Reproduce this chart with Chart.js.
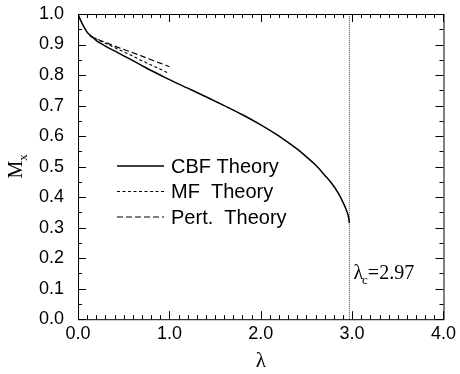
<!DOCTYPE html>
<html lang="en">
<head>
    <meta charset="UTF-8">
    <title>Mx vs lambda</title>
    <script src="https://cdn.jsdelivr.net/npm/chart.js@4.4.0/dist/chart.umd.min.js"></script>
    <style>
        body { margin: 0; background: #fff; }
    </style>
</head>
<body>
    <canvas id="canvas" width="460" height="374"></canvas>
    <script>
        // values
        const lambdaCBF = [0.00, 0.02, 0.05, 0.10, 0.15, 0.20, 0.30, 0.40, 0.50, 0.60, 0.70, 0.80, 0.90, 1.00,
            1.20, 1.40, 1.60, 1.80, 2.00, 2.20, 2.40, 2.50, 2.60, 2.70, 2.78, 2.85, 2.90, 2.94, 2.96, 2.97]
        const mCBF = [1.000, 0.985, 0.966, 0.940, 0.926, 0.913, 0.895, 0.879, 0.863, 0.847, 0.831, 0.815, 0.800, 0.785,
            0.757, 0.729, 0.700, 0.670, 0.637, 0.600, 0.557, 0.532, 0.505, 0.472, 0.444, 0.412, 0.383, 0.355, 0.335, 0.315]
        const lambdaLow = [0.13, 0.20, 0.30, 0.40, 0.50, 0.60, 0.70, 0.80, 0.90, 1.00]
        const mMF = [0.929, 0.918, 0.904, 0.890, 0.876, 0.862, 0.847, 0.833, 0.819, 0.805]
        const mPert = [0.929, 0.919, 0.907, 0.895, 0.884, 0.873, 0.862, 0.850, 0.839, 0.827]
        const lambdaC = 2.97
        const seriesNames = ['CBF Theory', 'MF  Theory', 'Pert.  Theory']

        const toPoints = (xs, ys) => xs.map((x, i) => ({ x: x, y: ys[i] }))

        const sans = 'Liberation Sans, Arial, sans-serif'
        const serif = 'Liberation Serif, Times New Roman, serif'

        const frameTicks = {
            id: 'frameTicks',
            afterDatasetsDraw: (chart) => {
                const ctx = chart.ctx
                const a = chart.chartArea
                const xs = chart.scales.x
                const ys = chart.scales.y
                ctx.save()
                ctx.strokeStyle = '#000'
                ctx.lineWidth = 1
                ctx.strokeRect(a.left + 0.5, a.top + 0.5, a.right - a.left, a.bottom - a.top)
                ctx.beginPath()
                for (let i = 0; i <= 40; i++) {
                    const px = Math.round(xs.getPixelForValue(i / 10)) + 0.5
                    const len = i % 10 === 0 ? 8 : 4
                    ctx.moveTo(px, a.bottom); ctx.lineTo(px, a.bottom - len)
                    ctx.moveTo(px, a.top); ctx.lineTo(px, a.top + len)
                }
                for (let i = 0; i <= 20; i++) {
                    const py = Math.round(ys.getPixelForValue(i / 20)) + 0.5
                    const len = i % 2 === 0 ? 8 : 4
                    ctx.moveTo(a.left, py); ctx.lineTo(a.left + len, py)
                    ctx.moveTo(a.right, py); ctx.lineTo(a.right - len, py)
                }
                ctx.stroke()

                // legend
                const sets = chart.data.datasets.slice(0, 3)
                sets.forEach((ds, i) => {
                    const y = a.top + 152 + i * 25.5
                    ctx.beginPath()
                    ctx.setLineDash(ds.borderDash || [])
                    ctx.lineWidth = ds.borderWidth
                    ctx.moveTo(a.left + 39, y)
                    ctx.lineTo(a.left + 86, y)
                    ctx.stroke()
                    ctx.setLineDash([])
                    ctx.fillStyle = '#000'
                    ctx.font = '20px ' + sans
                    ctx.textBaseline = 'middle'
                    ctx.textAlign = 'left'
                    ctx.fillText(ds.label, a.left + 93, y + 1)
                })

                // lambda_c label
                const lx = xs.getPixelForValue(lambdaC) + 4
                const ly = ys.getPixelForValue(0.132)
                ctx.textBaseline = 'alphabetic'
                ctx.font = '20px ' + serif
                ctx.fillText('\u03bb', lx, ly)
                let w = ctx.measureText('\u03bb').width
                ctx.font = '13px ' + serif
                ctx.fillText('c', lx + w - 1, ly + 5)
                const wc = ctx.measureText('c').width
                ctx.font = '20px ' + serif
                ctx.fillText('=2.97', lx + w - 1 + wc, ly)

                // y axis title M_x
                ctx.translate(22, (a.top + a.bottom) / 2)
                ctx.rotate(-Math.PI / 2)
                ctx.font = '20px ' + serif
                ctx.textAlign = 'left'
                const wm = ctx.measureText('M').width
                ctx.fillText('M', -wm / 2 - 3, 0)
                ctx.font = '13px ' + serif
                ctx.fillText('x', wm / 2 - 3, 5)
                ctx.restore()
            }
        }

        new Chart(document.getElementById('canvas').getContext('2d'), {
            type: 'scatter',
            data: {
                datasets: [
                    {
                        label: seriesNames[0],
                        data: toPoints(lambdaCBF, mCBF),
                        showLine: true,
                        borderColor: '#000',
                        borderWidth: 1.5,
                        pointRadius: 0,
                        cubicInterpolationMode: 'monotone'
                    },
                    {
                        label: seriesNames[1],
                        data: toPoints(lambdaLow, mMF),
                        showLine: true,
                        borderColor: '#000',
                        borderWidth: 1.1,
                        borderDash: [3, 2.5],
                        pointRadius: 0,
                        cubicInterpolationMode: 'monotone'
                    },
                    {
                        label: seriesNames[2],
                        data: toPoints(lambdaLow, mPert),
                        showLine: true,
                        borderColor: '#000',
                        borderWidth: 1.1,
                        borderDash: [6, 3],
                        pointRadius: 0,
                        cubicInterpolationMode: 'monotone'
                    },
                    {
                        label: 'lambda_c',
                        data: [{ x: lambdaC, y: 0 }, { x: lambdaC, y: 1 }],
                        showLine: true,
                        borderColor: '#444',
                        borderWidth: 1,
                        borderDash: [1, 1],
                        pointRadius: 0
                    }
                ]
            },
            options: {
                responsive: false,
                animation: false,
                layout: { padding: { left: 25, right: 15, top: 14, bottom: 0 } },
                plugins: {
                    legend: { display: false },
                    tooltip: { enabled: false }
                },
                scales: {
                    x: {
                        type: 'linear',
                        min: 0,
                        max: 4,
                        grid: { display: false, drawTicks: false },
                        border: { display: false },
                        ticks: {
                            stepSize: 1,
                            padding: 4,
                            color: '#000',
                            font: { family: sans, size: 18 },
                            callback: (v) => v.toFixed(1)
                        },
                        title: {
                            display: true,
                            text: '\u03bb',
                            color: '#000',
                            font: { family: serif, size: 21 },
                            padding: { top: 0, bottom: 0 }
                        }
                    },
                    y: {
                        type: 'linear',
                        min: 0,
                        max: 1,
                        afterFit: (scale) => {
                            scale.paddingTop = 0
                            scale.paddingBottom = 0
                        },
                        grid: { display: false, drawTicks: false },
                        border: { display: false },
                        ticks: {
                            stepSize: 0.1,
                            padding: 14,
                            color: '#000',
                            font: { family: sans, size: 18 },
                            callback: (v) => v.toFixed(1)
                        }
                    }
                }
            },
            plugins: [frameTicks]
        })
    </script>
</body>
</html>
